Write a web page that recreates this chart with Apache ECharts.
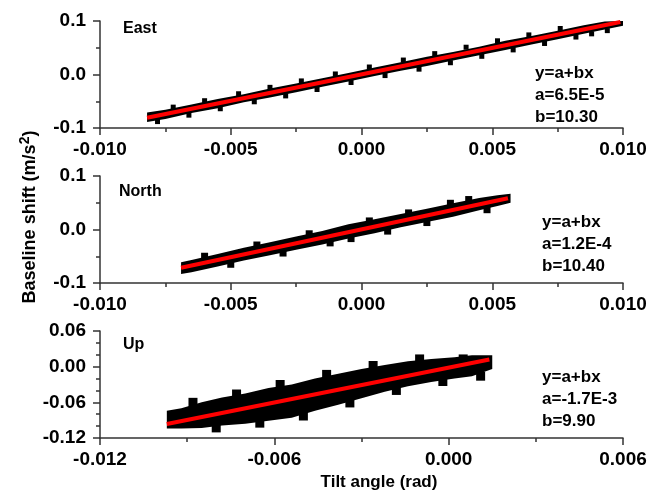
<!DOCTYPE html>
<html>
<head>
<meta charset="utf-8">
<script src="https://cdn.jsdelivr.net/npm/echarts@6/dist/echarts.min.js"></script>
<style>html,body{margin:0;padding:0;background:#fff;}#c{width:651px;height:491px;}</style>
</head>
<body>
<div id="c"></div>
<script>
// ---- East panel ----
const eastX  = [-0.0082,-0.0075,-0.0065,-0.0055,-0.0045,-0.0035,-0.0025,-0.0015,-0.0005,0.0005,0.0015,0.0025,0.0035,0.0045,0.0055,0.0065,0.0075,0.0085,0.0093,0.0100];
const eastHi = [-0.071,-0.066,-0.056,-0.046,-0.037,-0.026,-0.017,-0.007,0.003,0.013,0.023,0.033,0.042,0.052,0.063,0.072,0.082,0.092,0.099,0.100];
const eastLo = [-0.089,-0.083,-0.072,-0.063,-0.052,-0.043,-0.033,-0.023,-0.013,-0.003,0.007,0.016,0.026,0.036,0.046,0.056,0.066,0.076,0.084,0.091];
const eastOut = [[-0.0078,-0.088],[-0.0072,-0.061],[-0.0066,-0.076],[-0.0060,-0.049],[-0.0054,-0.064],[-0.0047,-0.036],[-0.0041,-0.051],[-0.0035,-0.024],[-0.0029,-0.040],[-0.0023,-0.012],[-0.0017,-0.028],[-0.0010,0.001],[-0.0004,-0.015],[0.0003,0.014],[0.0009,-0.002],[0.0016,0.027],[0.0022,0.010],[0.0028,0.039],[0.0034,0.022],[0.0040,0.051],[0.0046,0.034],[0.0052,0.063],[0.0058,0.046],[0.0064,0.074],[0.0070,0.058],[0.0076,0.086],[0.0082,0.070],[0.0088,0.076],[0.0094,0.082]];
const eastFit = [[-0.0082,-0.081],[0.0099,0.098]];

// ---- North panel ----
const northX  = [-0.0069,-0.0065,-0.0055,-0.0045,-0.0035,-0.0025,-0.0015,-0.0005,0.0005,0.0015,0.0025,0.0035,0.0045,0.0052,0.0057];
const northHi = [-0.061,-0.057,-0.046,-0.034,-0.024,-0.013,-0.003,0.010,0.019,0.029,0.039,0.049,0.059,0.064,0.067];
const northLo = [-0.083,-0.080,-0.069,-0.058,-0.048,-0.038,-0.028,-0.017,-0.007,0.004,0.014,0.024,0.036,0.044,0.050];
const northOut = [[-0.0060,-0.050],[-0.0050,-0.065],[-0.0040,-0.029],[-0.0030,-0.044],[-0.0020,-0.008],[-0.0012,-0.025],[-0.0004,-0.017],[0.0003,0.016],[0.0010,-0.003],[0.0018,0.031],[0.0025,0.013],[0.0034,0.049],[0.0041,0.056],[0.0048,0.037]];
const northFit = [[-0.0069,-0.0716],[0.0056,0.0584]];

// ---- Up panel ----
const upX  = [-0.0097,-0.0092,-0.0085,-0.0078,-0.0070,-0.0062,-0.0054,-0.0046,-0.0038,-0.0030,-0.0022,-0.0014,-0.0006,0.0002,0.0008,0.0015];
const upHi = [-0.074,-0.070,-0.060,-0.052,-0.045,-0.036,-0.030,-0.020,-0.012,-0.004,0.003,0.009,0.013,0.016,0.019,0.019];
const upLo = [-0.104,-0.104,-0.103,-0.099,-0.096,-0.091,-0.086,-0.074,-0.064,-0.053,-0.042,-0.033,-0.026,-0.020,-0.016,-0.004];
const upOut = [[-0.0088,-0.060],[-0.0073,-0.046],[-0.0058,-0.030],[-0.0042,-0.013],[-0.0026,0.002],[-0.0010,0.013],[0.0005,0.013],[-0.0080,-0.103],[-0.0065,-0.095],[-0.0050,-0.083],[-0.0034,-0.061],[-0.0018,-0.040],[-0.0002,-0.025],[0.0011,-0.016]];
const upFit = [[-0.0097,-0.0965],[0.0014,0.0122]];

// ---- axes / labels ----
const xRange1 = [-0.010, 0.010, 0.005];
const xRange3 = [-0.012, 0.006, 0.006];
const yRange1 = [-0.1, 0.1, 0.1];
const yRange3 = [-0.12, 0.06, 0.06];
const panelNames = ['East', 'North', 'Up'];
const eqLines = [
  ['y=a+bx', 'a=6.5E-5', 'b=10.30'],
  ['y=a+bx', 'a=1.2E-4', 'b=10.40'],
  ['y=a+bx', 'a=-1.7E-3', 'b=9.90']
];
const yTitle = 'Baseline shift (m/s';
const xTitle = 'Tilt angle (rad)';

const FONT = '"Liberation Sans", Arial, sans-serif';
const gridTops = [21, 176, 331];
const gridH = 107;

function fmt(d) { return v => (Math.abs(v) < 1e-12 ? 0 : v).toFixed(d); }

function xAxis(idx, r, minorSplit) {
  return {
    gridIndex: idx, type: 'value', min: r[0], max: r[1], interval: r[2],
    axisLine: { show: true, onZero: false, lineStyle: { color: '#333', width: 1.5 } },
    axisTick: { show: true, inside: false, length: 7, lineStyle: { color: '#333', width: 1.5 } },
    minorTick: { show: true, splitNumber: minorSplit, length: 4, lineStyle: { color: '#333', width: 1.5 } },
    splitLine: { show: false },
    axisLabel: { formatter: fmt(3), fontSize: 19, fontWeight: 'bold', color: '#000', fontFamily: FONT, margin: 12 }
  };
}
function yAxis(idx, r, minorSplit, dec) {
  return {
    gridIndex: idx, type: 'value', min: r[0], max: r[1], interval: r[2],
    axisLine: { show: true, onZero: false, lineStyle: { color: '#333', width: 1.5 } },
    axisTick: { show: true, inside: false, length: 7, lineStyle: { color: '#333', width: 1.5 } },
    minorTick: { show: true, splitNumber: minorSplit, length: 4, lineStyle: { color: '#333', width: 1.5 } },
    splitLine: { show: false },
    axisLabel: { formatter: fmt(dec), fontSize: 19, fontWeight: 'bold', color: '#000', fontFamily: FONT, margin: 14 }
  };
}

function band(idx, xs, lo, hi) {
  return {
    type: 'custom', xAxisIndex: idx, yAxisIndex: idx, silent: true, z: 2, clip: true,
    data: xs.map((x, i) => [x, lo[i], hi[i]]),
    encode: { x: 0, y: [1, 2] },
    renderItem: function (params, api) {
      if (params.dataIndex !== 0) return null;
      const pts = [];
      for (let i = 0; i < xs.length; i++) pts.push(api.coord([xs[i], hi[i]]));
      for (let i = xs.length - 1; i >= 0; i--) pts.push(api.coord([xs[i], lo[i]]));
      return { type: 'polygon', shape: { points: pts }, style: { fill: '#000' } };
    }
  };
}
function dots(idx, data, size) {
  return { type: 'scatter', xAxisIndex: idx, yAxisIndex: idx, data: data, symbol: 'rect', symbolSize: size, itemStyle: { color: '#000', opacity: 1 }, z: 3, silent: true };
}
function fit(idx, data) {
  return { type: 'line', xAxisIndex: idx, yAxisIndex: idx, data: data, showSymbol: false, symbol: 'none', lineStyle: { color: '#ff0000', width: 4 }, z: 5, silent: true };
}

const namePos = [[123, 29], [119, 192], [123, 345]];
const eqPos = [[535, 73], [542, 222], [542, 377]];
const graphics = [];
panelNames.forEach((n, i) => {
  graphics.push({ type: 'text', x: namePos[i][0], y: namePos[i][1], style: { text: n, font: 'bold 16px ' + FONT, fill: '#000', align: 'left', verticalAlign: 'middle' } });
  eqLines[i].forEach((t, j) => {
    graphics.push({ type: 'text', x: eqPos[i][0], y: eqPos[i][1] + j * 22, style: { text: t, font: 'bold 17px ' + FONT, fill: '#000', align: 'left', verticalAlign: 'middle' } });
  });
});
graphics.push({
  type: 'text', x: 30, y: 217, rotation: Math.PI / 2,
  style: {
    text: '{a|' + yTitle + '}{b|2}{a|)}',
    rich: {
      a: { fontSize: 18, fontWeight: 'bold', fontFamily: FONT, fill: '#000', lineHeight: 22 },
      b: { fontSize: 14, fontWeight: 'bold', fontFamily: FONT, fill: '#000', padding: [0, 0, 10, 0] }
    },
    align: 'center', verticalAlign: 'middle'
  }
});
graphics.push({ type: 'text', x: 379, y: 482, style: { text: xTitle, font: 'bold 17px ' + FONT, fill: '#000', align: 'center', verticalAlign: 'middle' } });

const chart = echarts.init(document.getElementById('c'), null, { renderer: 'canvas' });
chart.setOption({
  animation: false,
  backgroundColor: '#fff',
  grid: gridTops.map(t => ({ left: 100, width: 523, top: t, height: gridH })),
  xAxis: [xAxis(0, xRange1, 2), xAxis(1, xRange1, 2), xAxis(2, xRange3, 2)],
  yAxis: [yAxis(0, yRange1, 2, 1), yAxis(1, yRange1, 2, 1), yAxis(2, yRange3, 3, 2)],
  series: [
    band(0, eastX, eastLo, eastHi), dots(0, eastOut, 5), fit(0, eastFit),
    band(1, northX, northLo, northHi), dots(1, northOut, 7), fit(1, northFit),
    band(2, upX, upLo, upHi), dots(2, upOut, 9), fit(2, upFit)
  ],
  graphic: graphics
});
</script>
</body>
</html>
